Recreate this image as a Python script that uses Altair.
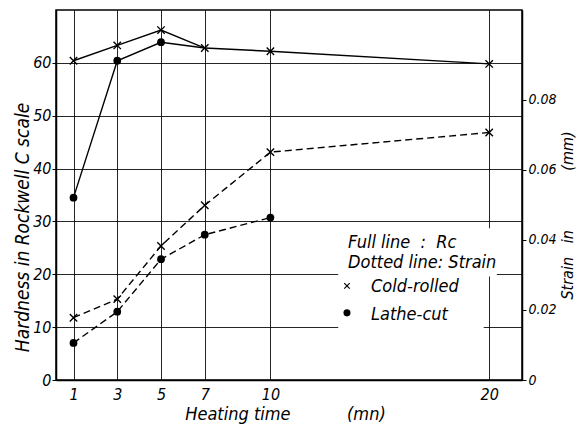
import altair as alt
import pandas as pd

# ---- data ----
times = [1, 3, 5, 7, 10, 20]
cold_rc = [60.4, 63.3, 66.2, 62.8, 62.2, 59.8]
lathe_times_rc = [1, 3, 5, 7]
lathe_rc = [34.5, 60.4, 63.9, 62.8]
cold_strain = [0.0178, 0.0231, 0.0383, 0.0499, 0.0651, 0.0707]
lathe_times_strain = [1, 3, 5, 7, 10]
lathe_strain = [0.0106, 0.0195, 0.0345, 0.0415, 0.0464]

hard_ticks = [0, 10, 20, 30, 40, 50, 60]
strain_ticks = [0, 0.02, 0.04, 0.06, 0.08]

NB = "\u00a0"
legend_lines = ["Full" + NB + "line" + NB * 2 + ":" + NB * 2 + "Rc", "Dotted line: Strain"]
legend_entries = ["Cold-rolled", "Lathe-cut"]
legend_box = {"x1": [13.1, 19.7], "x2": [19.75, 20.35], "y1": [9.0, 19.6], "y2": [28.7, 28.7]}
legend_line_x = [13.55, 13.55]
legend_line_y = [25.9, 22.1]
legend_mark_x = [13.5, 13.5]
legend_mark_y = [17.8, 12.7]
legend_entry_x = [14.6, 14.6]
legend_entry_y = [17.6, 12.3]

FONT = "DejaVu Sans Condensed, Liberation Sans Narrow, DejaVu Sans"
XSHAPE = "M-1,-1L1,1M-1,1L1,-1"

df_h = pd.DataFrame(
    {"time": times + lathe_times_rc,
     "value": cold_rc + lathe_rc,
     "series": ["Cold-rolled"] * len(times) + ["Lathe-cut"] * len(lathe_times_rc)}
)
df_s = pd.DataFrame(
    {"time": times + lathe_times_strain,
     "value": cold_strain + lathe_strain,
     "series": ["Cold-rolled"] * len(times) + ["Lathe-cut"] * len(lathe_times_strain)}
)
df_box = pd.DataFrame(legend_box)
df_txt = pd.DataFrame({"x": legend_line_x + legend_entry_x,
                       "y": legend_line_y + legend_entry_y,
                       "label": legend_lines + legend_entries})
df_mk = pd.DataFrame({"x": legend_mark_x, "y": legend_mark_y, "series": legend_entries})

xscale = alt.Scale(domain=[0.2, 21.5], nice=False, zero=False)
yLscale = alt.Scale(domain=[0, 70], nice=False)
yRscale = alt.Scale(domain=[0, 0.1057], nice=False)

xaxis = alt.Axis(values=times, title="Heating time" + NB * 11 + "(mn)", grid=True,
                 gridColor="black", gridWidth=1, gridOpacity=0.85, tickSize=0,
                 labelPadding=6, labelFontSize=16, labelFont=FONT,
                 labelFontStyle="italic", labelFlush=False, titleFont=FONT,
                 titleFontStyle="italic", titleFontWeight="normal", titleFontSize=18,
                 titleX=229, titleY=34, titleBaseline="middle", titleAlign="center",
                 domainWidth=1.5, domainColor="black")
yLaxis = alt.Axis(values=hard_ticks, title="Hardness in Rockwell C scale", grid=True,
                  gridColor="black", gridWidth=1, gridOpacity=0.85, tickSize=4,
                  tickColor="black", labelPadding=1, labelFontSize=16, labelFont=FONT,
                  labelFontStyle="italic", titleFont=FONT, titleFontStyle="italic",
                  titleFontWeight="normal", titleFontSize=19, titleX=-34, titleY=217,
                  titleAngle=270, titleBaseline="middle", titleAlign="center",
                  domainWidth=1.5, domainColor="black")
yRaxis = alt.Axis(orient="right", values=strain_ticks, format=".2~f", grid=False,
                  tickSize=4, tickColor="black", labelPadding=2, labelFontSize=14,
                  labelFont=FONT, labelFontStyle="italic",
                  title="Strain" + NB * 3 + "in" + NB * 13 + "(mm)",
                  titleFont=FONT, titleFontStyle="italic", titleFontWeight="normal",
                  titleFontSize=16, titleX=45, titleY=205, titleAngle=270,
                  titleBaseline="middle", titleAlign="center", domainWidth=1.5,
                  domainColor="black")


def X(field):
    return alt.X(field, type="quantitative", scale=xscale, axis=xaxis)


def YL(field):
    return alt.Y(field, type="quantitative", scale=yLscale, axis=yLaxis)


def YR(field):
    return alt.Y(field, type="quantitative", scale=yRscale, axis=yRaxis)


# ---- hardness (left axis) ----
box = alt.Chart(df_box).mark_rect(color="white", opacity=1).encode(
    x=X("x1"), x2="x2", y=YL("y1"), y2="y2")
line_h = alt.Chart(df_h).mark_line(color="black", strokeWidth=1.4).encode(
    x=X("time"), y=YL("value"), detail="series:N")
cold_h = alt.Chart(df_h).transform_filter(alt.datum.series == "Cold-rolled").mark_point(
    shape=XSHAPE, size=55, filled=False, color="black", strokeWidth=1.4, opacity=1).encode(
    x=X("time"), y=YL("value"))
lathe_h = alt.Chart(df_h).transform_filter(
    (alt.datum.series == "Lathe-cut") & (alt.datum.time < 7)).mark_point(
    shape="circle", size=60, filled=True, color="black", opacity=1).encode(
    x=X("time"), y=YL("value"))
txt = alt.Chart(df_txt).mark_text(align="left", baseline="middle", font=FONT,
                                  fontStyle="italic", fontSize=18, color="black").encode(
    x=X("x"), y=YL("y"), text="label:N")
mk_x = alt.Chart(df_mk).transform_filter(alt.datum.series == "Cold-rolled").mark_point(
    shape=XSHAPE, size=30, filled=False, color="black", strokeWidth=1.2, opacity=1).encode(
    x=X("x"), y=YL("y"))
mk_o = alt.Chart(df_mk).transform_filter(alt.datum.series == "Lathe-cut").mark_point(
    shape="circle", size=50, filled=True, color="black", opacity=1).encode(
    x=X("x"), y=YL("y"))
hard = alt.layer(box, line_h, cold_h, lathe_h, txt, mk_x, mk_o)

# ---- strain (right axis) ----
line_s = alt.Chart(df_s).mark_line(color="black", strokeWidth=1.4, strokeDash=[7, 4]).encode(
    x=X("time"), y=YR("value"), detail="series:N")
cold_s = alt.Chart(df_s).transform_filter(alt.datum.series == "Cold-rolled").mark_point(
    shape=XSHAPE, size=55, filled=False, color="black", strokeWidth=1.4, opacity=1).encode(
    x=X("time"), y=YR("value"))
lathe_s = alt.Chart(df_s).transform_filter(alt.datum.series == "Lathe-cut").mark_point(
    shape="circle", size=60, filled=True, color="black", opacity=1).encode(
    x=X("time"), y=YR("value"))
strain = alt.layer(line_s, cold_s, lathe_s)

chart = alt.layer(hard, strain).resolve_scale(y="independent").properties(
    width=466, height=370,
    autosize=alt.AutoSizeParams(type="none"),
    padding={"left": 48, "top": 2, "right": 57, "bottom": 44},
    background="white",
).configure_view(stroke="black", strokeWidth=1.5)

chart.save("out.html", embed_options={"renderer": "svg", "actions": False})
